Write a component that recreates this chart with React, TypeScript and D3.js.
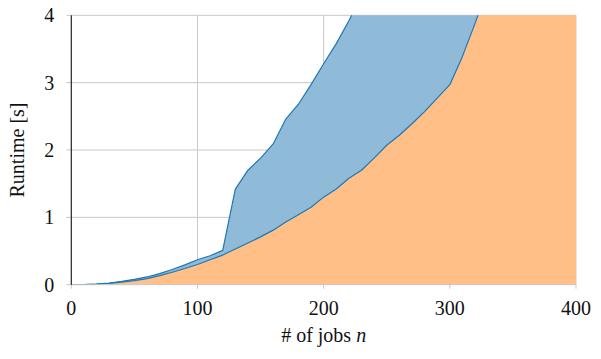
import React from "react";
import * as d3 from "d3";

const jobs = [0,10,20,30,40,50,60,70,80,90,100,110,120,130,140,150,160,170,180,190,200,210,220,230,240,250,260,270,280,290,300,310,320,330,340,350,360,370,380,390,400];
const lowerRuntime = [0,0.002,0.008,0.02,0.037,0.06,0.09,0.135,0.185,0.24,0.30,0.37,0.44,0.53,0.62,0.71,0.81,0.93,1.04,1.15,1.30,1.42,1.58,1.70,1.88,2.07,2.22,2.39,2.57,2.77,2.97,3.39,3.88,4.4,4.9,5.4,5.9,6.4,6.9,7.4,7.9];
const upperRuntime = [0,0.003,0.01,0.025,0.05,0.08,0.115,0.165,0.225,0.295,0.37,0.43,0.51,1.42,1.70,1.88,2.09,2.46,2.68,2.97,3.28,3.58,3.92,4.3,4.7,5.1,5.5,5.9,6.3,6.7,7.1,7.5,7.9,8.3,8.7,9.1,9.5,9.9,10.3,10.7,11.1];
const xTicks = [0,100,200,300,400];
const yTicks = [0,1,2,3,4];

const W = 601, H = 359;
const M = { left: 71.3, right: 25, top: 15.3, bottom: 74.3 };

export default function App() {
  const x = d3.scaleLinear().domain([0, 400]).range([M.left, W - M.right]);
  const y = d3.scaleLinear().domain([0, 4]).range([H - M.bottom, M.top]);
  const data = jobs.map((n, i) => ({ n, lo: lowerRuntime[i], hi: upperRuntime[i] }));

  const orangeArea = d3.area<any>().x(d => x(d.n)).y0(y(0)).y1(d => y(d.lo))(data) || "";
  const blueArea = d3.area<any>().x(d => x(d.n)).y0(d => y(d.lo)).y1(d => y(d.hi))(data) || "";
  const loLine = d3.line<any>().x(d => x(d.n)).y(d => y(d.lo))(data) || "";
  const hiLine = d3.line<any>().x(d => x(d.n)).y(d => y(d.hi))(data) || "";

  const x0 = x(0), x1 = x(400), yb = y(0), yt = y(4);

  return (
    <div style={{ fontFamily: "Liberation Serif" }}>
    <svg width={W} height={H} fontFamily="Liberation Serif" fontSize={20} style={{ position: "absolute", left: 0, top: 0, display: "block", fontFamily: "Liberation Serif" }}>
      <defs>
        <clipPath id="plotclip">
          <rect x={x0} y={yt} width={x1 - x0} height={yb - yt} />
        </clipPath>
      </defs>
      {yTicks.filter(t => t > 0).map(t => (
        <line key={"gy" + t} x1={x0} x2={x1} y1={y(t)} y2={y(t)} stroke="#c8c8c8" strokeWidth={1} />
      ))}
      {xTicks.filter(t => t > 0).map(t => (
        <line key={"gx" + t} x1={x(t)} x2={x(t)} y1={yt} y2={yb} stroke="#c8c8c8" strokeWidth={1} />
      ))}
      <g clipPath="url(#plotclip)">
        <path d={orangeArea} fill="#ffbf86" stroke="none" />
        <path d={blueArea} fill="#8fbad8" stroke="none" />
        <path d={loLine} fill="none" stroke="#1f77b4" strokeWidth={1.2} strokeLinejoin="round" />
        <path d={hiLine} fill="none" stroke="#1f77b4" strokeWidth={1.2} strokeLinejoin="round" />
      </g>
      <line x1={x0} x2={x1} y1={yb} y2={yb} stroke="#c8c8c8" strokeWidth={1} />
      {xTicks.map(t => (
        <line key={"xtl" + t} x1={x(t)} x2={x(t)} y1={yb} y2={yb + 4} stroke="#c8c8c8" strokeWidth={1} />
      ))}
      {xTicks.map(t => (
        <text key={"xt" + t} x={x(t)} y={315} textAnchor="middle" fontFamily="Liberation Serif" fontSize={20} fill="#111">{t}</text>
      ))}
      {yTicks.map(t => (
        <line key={"ytl" + t} x1={x0 - 5} x2={x0} y1={y(t)} y2={y(t)} stroke="#c8c8c8" strokeWidth={1} />
      ))}
      {yTicks.map(t => (
        <text key={"yt" + t} x={x0 - 17} y={y(t) + 7} textAnchor="end" fontFamily="Liberation Serif" fontSize={20} fill="#111">{t}</text>
      ))}
      <line x1={x0} x2={x0} y1={yt} y2={yb} stroke="#222" strokeWidth={1.2} />
      <text x={x(200)} y={342} textAnchor="middle" fontFamily="Liberation Serif" fontSize={20} fill="#111">
        # of jobs <tspan fontStyle="italic">n</tspan>
      </text>
      <text transform={`translate(24,${(yt + yb) / 2}) rotate(-90)`} textAnchor="middle" fontFamily="Liberation Serif" fontSize={20} fill="#111">
        Runtime [s]
      </text>
    </svg>
    </div>
  );
}
